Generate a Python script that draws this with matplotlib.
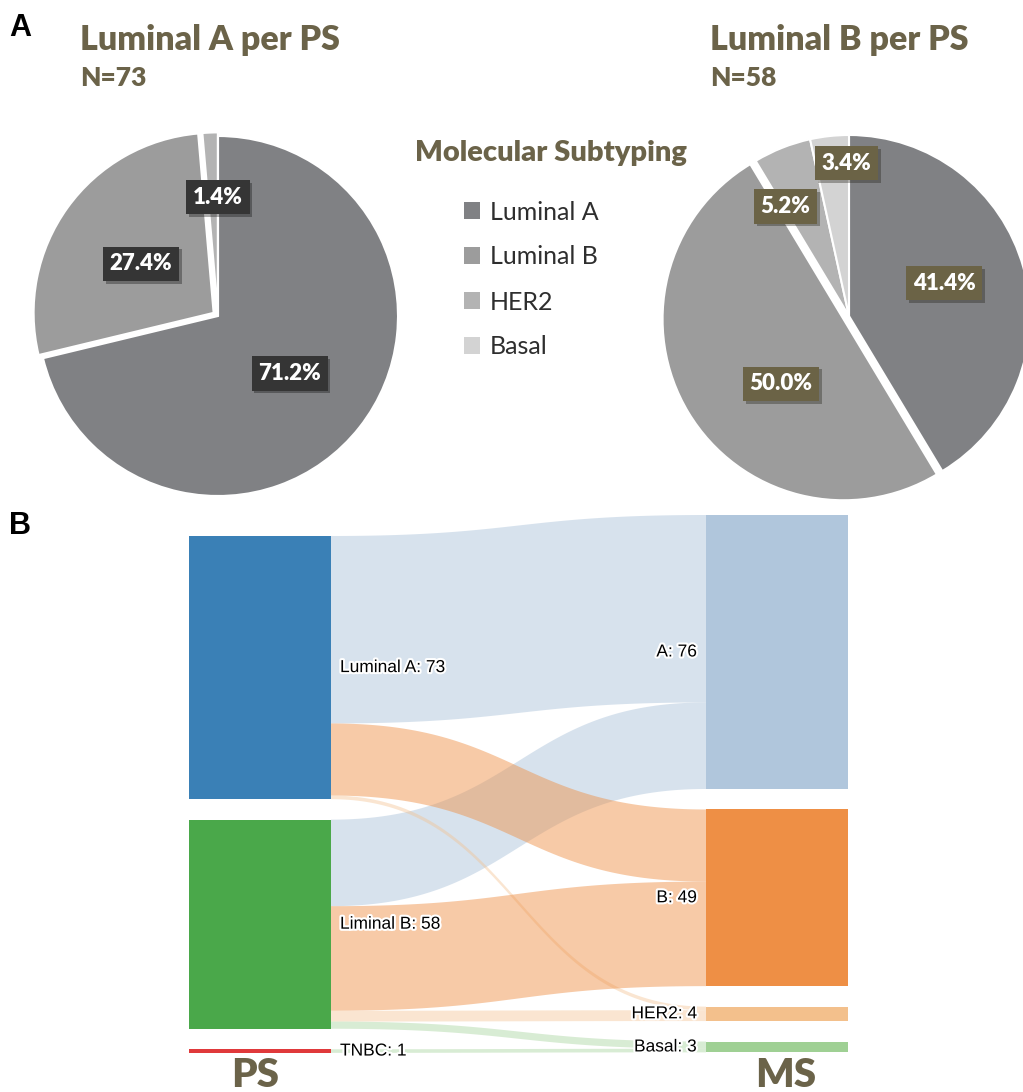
import numpy as np
import matplotlib.pyplot as plt
from matplotlib.patches import Rectangle
from matplotlib import patheffects as pe

# molecular subtype (MS) counts for each pathological subtype (PS)
ms_labels = ["Luminal A", "Luminal B", "HER2", "Basal"]
ms_short = ["A", "B", "HER2", "Basal"]
ps_labels = ["Luminal A", "Liminal B", "TNBC"]
lumA_to_ms = [52, 20, 1, 0]
lumB_to_ms = [24, 29, 3, 2]
tnbc_to_ms = [0, 0, 0, 1]
flows = [lumA_to_ms, lumB_to_ms, tnbc_to_ms]

W, H = 1023, 1092
OLIVE = "#6b6349"
GRAYS = ["#808184", "#9c9c9c", "#b3b3b3", "#d3d3d3"]
PS_COLORS = ["#3a80b6", "#4aa84a", "#e0393b"]
MS_COLORS = ["#b0c6dc", "#ee8f45", "#f3c08c", "#9fd094"]
LINK_COLORS = ["#b0c6dc", "#ee8f45", "#f3c08c", "#9fd094"]
LINK_ALPHA = [0.5, 0.47, 0.4, 0.4]
PIE_FONT = ["Lato", "DejaVu Sans"]
SK_FONT = ["Liberation Sans", "DejaVu Sans"]

fig = plt.figure(figsize=(W / 100, H / 100), dpi=100)

# ---------------- B: sankey ----------------
ax = fig.add_axes([0, 0, 1, 1])
ax.set_xlim(0, W)
ax.set_ylim(H, 0)
ax.axis("off")

scale = 3.605
gap = 20.5
left_x = (189, 331)
right_x = (706, 848)


def stack(values, top):
    tops = []
    y = top
    for v in values:
        tops.append(y)
        y += v * scale + gap
    return tops


ps_tot = [sum(f) for f in flows]
ms_tot = [sum(f[j] for f in flows) for j in range(4)]
ps_top = stack(ps_tot, 536)
ms_top = stack(ms_tot, 515)

# link positions
src_off = list(ps_top)
links = []
for i, f in enumerate(flows):
    for j, v in enumerate(f):
        if v == 0:
            continue
        links.append((i, j, v, src_off[i]))
        src_off[i] += v * scale
dst_cursor = list(ms_top)
dst_pos = {}
for i, j, v, _ in sorted(links, key=lambda l: (l[1], l[0])):
    dst_pos[(i, j)] = dst_cursor[j]
    dst_cursor[j] += v * scale

t = np.linspace(0, 1, 120)
x0, x1 = left_x[1], right_x[0]
xm = (x0 + x1) / 2
bx = (1 - t) ** 3 * x0 + 3 * (1 - t) ** 2 * t * xm + 3 * (1 - t) * t ** 2 * xm + t ** 3 * x1


def curve(y0, y1):
    return (1 - t) ** 3 * y0 + 3 * (1 - t) ** 2 * t * y0 + 3 * (1 - t) * t ** 2 * y1 + t ** 3 * y1


for i, j, v, ys in sorted(links, key=lambda l: (l[1] != 0, l[0])):
    yd = dst_pos[(i, j)]
    h = v * scale
    top = curve(ys, yd)
    bot = curve(ys + h, yd + h)
    ax.fill(np.concatenate([bx, bx[::-1]]), np.concatenate([top, bot[::-1]]),
            color=LINK_COLORS[j], alpha=LINK_ALPHA[j], lw=0)

halo = [pe.withStroke(linewidth=3, foreground="white")]
for i, tot in enumerate(ps_tot):
    ax.add_patch(Rectangle((left_x[0], ps_top[i]), left_x[1] - left_x[0], tot * scale,
                           color=PS_COLORS[i], lw=0))
    ax.text(left_x[1] + 9, ps_top[i] + tot * scale / 2, f"{ps_labels[i]}: {tot}",
            ha="left", va="center", fontsize=12.5, family=SK_FONT, path_effects=halo)
for j, tot in enumerate(ms_tot):
    ax.add_patch(Rectangle((right_x[0], ms_top[j]), right_x[1] - right_x[0], tot * scale,
                           color=MS_COLORS[j], lw=0))
    ax.text(right_x[0] - 9, ms_top[j] + tot * scale / 2, f"{ms_short[j]}: {tot}",
            ha="right", va="center", fontsize=12.5, family=SK_FONT, path_effects=halo)

ax.text(sum(left_x) / 2 - 5, 1087, "PS", ha="center", va="baseline", fontsize=29,
        fontweight="heavy", color=OLIVE, family=PIE_FONT)
ax.text(sum(right_x) / 2 + 9, 1087, "MS", ha="center", va="baseline", fontsize=29,
        fontweight="heavy", color=OLIVE, family=PIE_FONT)

# ---------------- A: pies ----------------


def draw_pie(cx, cy, r, values, explode, box_color, label_pos):
    pax = fig.add_axes([(cx - r) / W, 1 - (cy + r) / H, 2 * r / W, 2 * r / H])
    wedges, _ = pax.pie(values, colors=GRAYS, startangle=90, counterclock=False,
                        explode=explode, wedgeprops=dict(edgecolor="white", linewidth=1.5))
    for w in wedges:
        w.set_clip_on(False)
    pax.set_xlim(-1, 1)
    pax.set_ylim(-1, 1)
    total = sum(values)
    start = 90.0
    for v, (d, shift) in zip(values, label_pos):
        span = v / total * 360
        mid = np.radians(start - span / 2 + shift)
        start -= span
        if v == 0:
            continue
        txt = pax.text(d * np.cos(mid), d * np.sin(mid), f"{100 * v / total:.1f}%",
                       ha="center", va="center", color="white", fontsize=16,
                       fontweight="heavy", family=PIE_FONT,
                       bbox=dict(boxstyle="square,pad=0.3", fc=box_color, ec="none"))
        txt.get_bbox_patch().set_path_effects(
            [pe.SimplePatchShadow(offset=(2, -2), alpha=0.35), pe.Normal()])
    return wedges


wedges = draw_pie(218, 316, 180, lumA_to_ms, [0, 0.03, 0.02, 0], "#353535",
                  [(0.51, -0.5), (0.516, 1.6), (0.66, -2.5), (0.6, 0)])
draw_pie(849, 316, 181, lumB_to_ms, [0, 0.035, 0, 0], "#6b6346",
         [(0.556, 3.5), (0.53, 14), (0.70, 8.4), (0.845, -5.4)])

fig.text(80 / W, 1 - 40 / H, "Luminal A per PS", fontsize=24.5, fontweight="heavy",
         color=OLIVE, family=PIE_FONT, va="center")
fig.text(80 / W, 1 - 78 / H, "N=73", fontsize=19, fontweight="heavy",
         color=OLIVE, family=PIE_FONT, va="center")
fig.text(710 / W, 1 - 40 / H, "Luminal B per PS", fontsize=24.5, fontweight="heavy",
         color=OLIVE, family=PIE_FONT, va="center")
fig.text(710 / W, 1 - 78 / H, "N=58", fontsize=19, fontweight="heavy",
         color=OLIVE, family=PIE_FONT, va="center")
fig.text(551 / W, 1 - 153 / H, "Molecular Subtyping", fontsize=21, fontweight="heavy",
         color=OLIVE, family=PIE_FONT, ha="center", va="center")

leg = fig.legend(wedges, ms_labels, loc="upper left", bbox_to_anchor=(441 / W, 1 - 178 / H),
                 frameon=False, handlelength=0.65, handleheight=0.65, handletextpad=0.4,
                 labelspacing=0.88, prop=dict(family=PIE_FONT, size=18))
for h in leg.legend_handles:
    h.set_edgecolor("none")
for tx in leg.get_texts():
    tx.set_color("#2e2e2e")

fig.text(9 / W, 1 - 28 / H, "A", fontsize=22, fontweight="bold", family="Liberation Sans",
         va="center")
fig.text(9 / W, 1 - 526 / H, "B", fontsize=22, fontweight="bold", family="Liberation Sans",
         va="center")

fig.savefig("out.png", dpi=100)
